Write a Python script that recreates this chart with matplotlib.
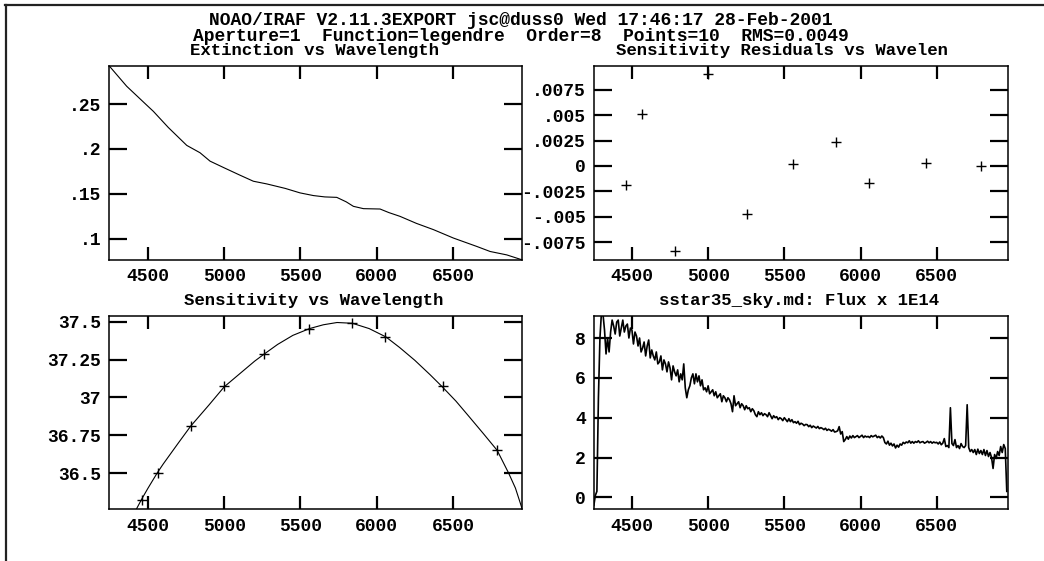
import numpy as np
import matplotlib.pyplot as plt
from matplotlib.lines import Line2D

W, H = 1044, 561

# extinction curve (mag/airmass)
ext_wave = [4246, 4360, 4491, 4535, 4633, 4754, 4841, 4907, 4999, 5100,
            5191, 5279, 5400, 5497, 5585, 5660, 5738, 5800, 5847, 5913,
            6022, 6080, 6153, 6260, 6372, 6503, 6657, 6744, 6853, 6955]
ext_val = [0.2926, 0.2700, 0.2490, 0.2420, 0.2240, 0.2040, 0.1958, 0.1864, 0.179, 0.171,
           0.164, 0.161, 0.156, 0.151, 0.148, 0.1465, 0.146, 0.141, 0.136, 0.1334,
           0.133, 0.129, 0.1248, 0.117, 0.110, 0.1006, 0.0912, 0.0856, 0.0818, 0.0762]

# standard star bandpasses
std_wave = [4462, 4565, 4784, 5000, 5258, 5557, 5840, 6055, 6433, 6789]
resid_val = [-0.00188, 0.0051, -0.00836, 0.00907, -0.00476,
             0.0002, 0.00232, -0.00165, 0.00033, 0.0]
sens_val = [36.323, 36.5, 36.81, 37.073, 37.285,
            37.453, 37.49, 37.40, 37.073, 36.653]

# legendre fit
fit_wave = [4423, 4460, 4500, 4560, 4600, 4700, 4780, 4900, 5000, 5100,
            5200, 5260, 5350, 5450, 5560, 5650, 5740, 5840, 5950, 6060,
            6150, 6250, 6350, 6430, 6520, 6600, 6700, 6790, 6865, 6910, 6955]
fit_val = [36.26, 36.33, 36.40, 36.50, 36.56, 36.70, 36.81, 36.95, 37.07, 37.155,
           37.24, 37.285, 37.35, 37.41, 37.455, 37.48, 37.495, 37.49, 37.455, 37.40,
           37.33, 37.245, 37.15, 37.07, 36.975, 36.88, 36.76, 36.65, 36.50, 36.40, 36.26]

# flux x 1E14, one value every 10 A starting at 4250
flux_start, flux_step = 4250, 10
flux = [
    -0.4, 0.1, 0.3, 5.0, 8.0, 9.3, 9.2, 8.4, 7.2, 8.0,
    7.3, 8.3, 8.9, 8.6, 8.2, 8.8, 8.9, 8.1, 8.5, 8.9,
    8.3, 8.6, 8.7, 8.0, 8.5, 8.4, 7.7, 8.3, 8.1, 7.6,
    8.0, 7.3, 7.5, 7.8, 7.1, 7.6, 7.9, 7.0, 7.4, 7.1,
    6.9, 7.3, 6.7, 6.8, 7.1, 6.4, 6.9, 6.7, 6.3, 6.8,
    6.5, 5.9, 6.6, 6.3, 6.1, 6.4, 5.8, 6.2, 5.9, 6.7,
    5.5, 5.0, 5.4, 5.6, 6.0, 6.2, 5.7, 6.2, 5.8, 6.1,
    5.6, 5.9, 5.4, 5.5, 5.3, 5.6, 5.2, 5.3, 5.4, 5.1,
    5.3, 5.0, 5.1, 5.2, 4.8, 5.1, 5.0, 4.8, 5.0, 4.9,
    4.7, 4.3, 5.1, 4.6, 4.7, 4.8, 4.5, 4.7, 4.6, 4.4,
    4.6, 4.45, 4.5, 4.3, 4.45, 4.35, 4.15, 4.05, 4.3, 4.15,
    4.25, 4.1, 4.2, 4.15, 4.05, 4.25, 4.1, 3.95, 4.1, 4.0,
    4.05, 3.9, 4.0, 3.95, 3.85, 4.0, 3.9, 3.8, 3.95, 3.8,
    3.9, 3.75, 3.8, 3.72, 3.82, 3.65, 3.72, 3.68, 3.6, 3.66,
    3.65, 3.55, 3.62, 3.5, 3.58, 3.53, 3.48, 3.56, 3.45, 3.5,
    3.46, 3.4, 3.47, 3.36, 3.42, 3.38, 3.32, 3.4, 3.28, 3.3,
    3.34, 3.55, 3.18, 3.3, 2.8, 2.9, 3.05, 2.92, 3.08, 2.98,
    3.1, 3.0, 3.05, 3.1, 3.0, 3.06, 3.12, 3.0, 3.08, 3.03,
    3.06, 3.0, 3.1, 3.04, 3.08, 3.12, 3.0, 3.06, 2.98, 3.08,
    3.0, 2.75, 2.68, 2.82, 2.62, 2.72, 2.58, 2.68, 2.48, 2.62,
    2.52, 2.68, 2.62, 2.76, 2.7, 2.78, 2.74, 2.84, 2.72, 2.8,
    2.72, 2.8, 2.76, 2.84, 2.74, 2.78, 2.8, 2.72, 2.76, 2.82,
    2.74, 2.8, 2.72, 2.78, 2.74, 2.76, 2.68, 2.78, 2.64, 2.72,
    2.95, 2.55, 2.6, 2.5, 4.5, 2.7, 2.6, 2.9, 2.5, 2.6,
    2.45, 2.7, 2.55, 2.5, 2.6, 4.65, 2.5, 2.3, 2.4, 2.25,
    2.4, 2.15, 2.42, 2.2, 2.35, 2.15, 2.4, 2.1, 2.35, 2.05,
    2.25, 2.0, 1.45, 2.15, 1.95, 2.3, 2.1, 2.55, 2.25, 2.65,
    2.45, 0.3,
]

header1 = "NOAO/IRAF V2.11.3EXPORT jsc@duss0 Wed 17:46:17 28-Feb-2001"
header2 = "Aperture=1  Function=legendre  Order=8  Points=10  RMS=0.0049"
titles = ["Extinction vs Wavelength", "Sensitivity Residuals vs Wavelen",
          "Sensitivity vs Wavelength", "sstar35_sky.md: Flux x 1E14"]

wave_ticks = [4500, 5000, 5500, 6000, 6500]
ext_ticks = [0.1, 0.15, 0.2, 0.25]
ext_labels = [".1", ".15", ".2", ".25"]
resid_ticks = [-0.0075, -0.005, -0.0025, 0, 0.0025, 0.005, 0.0075]
resid_labels = ["-.0075", "-.005", "-.0025", "0", ".0025", ".005", ".0075"]
sens_ticks = [36.5, 36.75, 37, 37.25, 37.5]
sens_labels = ["36.5", "36.75", "37", "37.25", "37.5"]
flux_ticks = [0, 2, 4, 6, 8]
flux_labels = ["0", "2", "4", "6", "8"]

plt.rcParams['font.family'] = ['Liberation Mono', 'DejaVu Sans Mono']
plt.rcParams['font.weight'] = 'bold'
plt.rcParams['font.size'] = 13


def box(left, top, right, bottom):
    return [left / W, 1 - bottom / H, (right - left) / W, (bottom - top) / H]


def style(ax, xlim, ylim, yticks, ylabels):
    ax.set_xlim(*xlim)
    ax.set_ylim(*ylim)
    ax.set_xticks(wave_ticks)
    ax.set_xticklabels([str(t) for t in wave_ticks])
    ax.set_yticks(yticks)
    ax.set_yticklabels(ylabels)
    ax.tick_params(axis='x', direction='in', length=9.5, width=1.6,
                   top=True, pad=6, labelsize=13)
    ax.tick_params(axis='y', direction='in', length=13, width=1.6,
                   right=True, pad=6, labelsize=13)
    for s in ax.spines.values():
        s.set_linewidth(1.1)


def ftext(x, y, s, size=13):
    fig.text(x / W, 1 - y / H, s, ha='center', va='baseline',
             fontsize=size, fontweight='bold')


fig = plt.figure(figsize=(W / 100, H / 100), dpi=100)

ax1 = fig.add_axes(box(109.3, 66, 522.3, 260))
ax1.plot(ext_wave, ext_val, c='k', lw=0.8)
style(ax1, (4246, 6955), (0.0761, 0.2926), ext_ticks, ext_labels)

ax2 = fig.add_axes(box(594, 66, 1008, 260))
ax2.plot(std_wave, resid_val, ls='None', marker='+', ms=7, mew=1.0, c='k')
style(ax2, (4251, 6968), (-0.00926, 0.00985), resid_ticks, resid_labels)

ax3 = fig.add_axes(box(109.3, 315.7, 522.3, 509.3))
ax3.plot(fit_wave, fit_val, c='k', lw=0.8)
ax3.plot(std_wave, sens_val, ls='None', marker='+', ms=7, mew=1.0, c='k')
style(ax3, (4246, 6955), (36.26, 37.54), sens_ticks, sens_labels)

flux_wave = flux_start + flux_step * np.arange(len(flux))
ax4 = fig.add_axes(box(594, 315.7, 1008, 509.3))
ax4.plot(flux_wave, flux, c='k', lw=1.2)
style(ax4, (4251, 6968), (-0.6, 9.12), flux_ticks, flux_labels)

ftext(520.5, 25, header1)
ftext(520.5, 41, header2)
ftext(314, 55.5, titles[0], 12.5)
ftext(782, 55.5, titles[1], 12.5)
ftext(314, 305, titles[2], 12.5)
ftext(799, 305, titles[3], 12.5)

# page frame drawn by the IRAF plot
fig.add_artist(Line2D([5 / W, 1], [1 - 5 / H, 1 - 5 / H], c='#222222', lw=1.6))
fig.add_artist(Line2D([6 / W, 6 / W], [0, 1 - 5 / H], c='#222222', lw=1.6))

fig.savefig('out.png', dpi=100)
